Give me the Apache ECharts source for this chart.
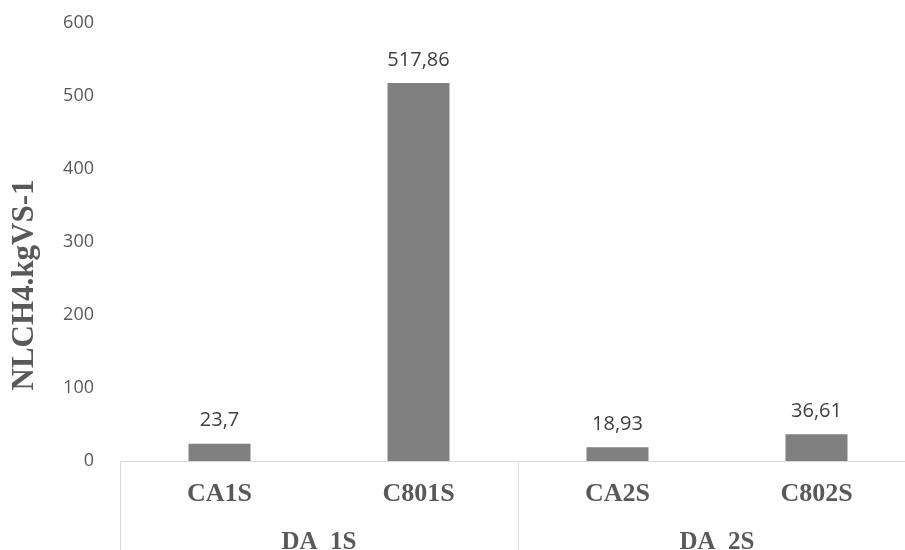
<!DOCTYPE html>
<html>
<head>
<meta charset="utf-8">
<script src="https://cdn.jsdelivr.net/npm/echarts@6/dist/echarts.min.js"></script>
<style>
  html, body { margin: 0; padding: 0; background: #fff; overflow: hidden; }
  #main { width: 920px; height: 550px; }
</style>
</head>
<body>
<div id="main"></div>
<script>
// chart data
let categories = ['CA1S', 'C801S', 'CA2S', 'C802S']
let groups = ['DA  1S', 'DA  2S']
let values = [23.7, 517.86, 18.93, 36.61]
let yName = 'NLCH4.kgVS-1'

let chart = echarts.init(document.getElementById('main'))

let option = {
  animation: false,
  grid: {
    left: 120,
    right: 4,
    top: 23,
    bottom: 89,
    containLabel: false,
    outerBoundsMode: 'none'
  },
  graphic: [
    {
      type: 'text',
      x: 25,
      y: 285,
      rotation: Math.PI / 2,
      style: {
        text: yName,
        fill: '#595959',
        fontFamily: 'Liberation Serif',
        fontWeight: 'bold',
        fontSize: 31,
        textAlign: 'center',
        textVerticalAlign: 'middle'
      }
    }
  ],
  xAxis: [
    {
      type: 'category',
      data: categories,
      axisLine: { show: true, lineStyle: { color: '#d9d9d9', width: 1 } },
      axisTick: { show: false },
      axisLabel: {
        margin: 20,
        color: '#595959',
        fontFamily: 'Liberation Serif',
        fontWeight: 'bold',
        fontSize: 26
      }
    },
    {
      type: 'category',
      position: 'bottom',
      data: groups,
      axisLine: { show: false },
      axisTick: {
        show: true,
        length: 90,
        inside: false,
        lineStyle: { color: '#d9d9d9', width: 1 }
      },
      axisLabel: {
        margin: 69,
        color: '#595959',
        fontFamily: 'Liberation Serif',
        fontWeight: 'bold',
        fontSize: 25
      }
    }
  ],
  yAxis: {
    type: 'value',
    min: 0,
    max: 600,
    interval: 100,
    axisLine: { show: false },
    axisTick: { show: false },
    splitLine: { show: false },
    axisLabel: {
      margin: 26,
      color: '#595959',
      fontFamily: 'Open Sans',
      fontSize: 18
    }
  },
  series: [
    {
      type: 'bar',
      xAxisIndex: 0,
      data: values,
      barWidth: 62,
      itemStyle: { color: '#808080' },
      label: {
        show: true,
        position: 'top',
        distance: 13,
        color: '#404040',
        fontFamily: 'Open Sans',
        fontSize: 20,
        formatter: function (p) {
          return String(p.value).replace('.', ',')
        }
      }
    }
  ]
}

chart.setOption(option)
</script>
</body>
</html>
